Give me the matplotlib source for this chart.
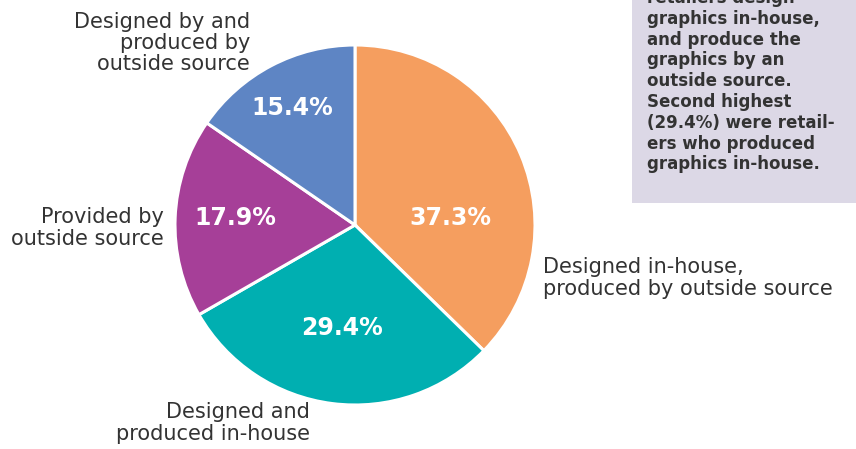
import matplotlib.pyplot as plt
from matplotlib.patches import Rectangle

plt.rcParams["font.family"] = ["DejaVu Sans"]

# share of retailers by how their graphics are designed / produced
categories = [
    "Designed in-house,\nproduced by outside source",
    "Designed and\nproduced in-house",
    "Provided by\noutside source",
    "Designed by and\nproduced by\noutside source",
]
shares = [37.3, 29.4, 17.9, 15.4]
colors = ["#F59E5F", "#00AFB1", "#A63F98", "#5E85C4"]

note = ("retailers design\ngraphics in-house,\nand produce the\ngraphics by an\n"
        "outside source.\nSecond highest\n(29.4%) were retail-\ners who produced\n"
        "graphics in-house.")

W, H = 856, 449
fig = plt.figure(figsize=(W / 100, H / 100), dpi=100)
ax = fig.add_axes([0, 0, 1, 1])

cx, cy, r = 355, H - 225, 180
ax.pie(shares, colors=colors, startangle=90, counterclock=False,
       center=(cx, cy), radius=r, frame=True,
       wedgeprops=dict(edgecolor="white", linewidth=2.2))
ax.set_xlim(0, W)
ax.set_ylim(0, H)
ax.set_aspect("equal")
ax.axis("off")

# percentage labels inside the slices
pct_pos = [(450, 218), (342, 328), (235, 218), (292, 108)]
for v, (x, y) in zip(shares, pct_pos):
    ax.text(x, H - y, f"{v}%", color="white", fontsize=17, fontweight="bold",
            ha="center", va="center")

# category labels around the pie
lab_pos = [(543, 278, "left"), (310, 423, "right"),
           (164, 228, "right"), (250, 43, "right")]
for lab, (x, y, ha) in zip(categories, lab_pos):
    ax.text(x, H - y, lab, color="#333333", fontsize=15, ha=ha, va="center",
            multialignment=ha, linespacing=1.08)

# side note box
ax.add_patch(Rectangle((632, H - 203), 240, 260, facecolor="#DCD8E6",
                       edgecolor="none"))
ax.text(647, H + 11, note, color="#333333", fontsize=12, fontweight="bold",
        ha="left", va="top", linespacing=1.2)

fig.savefig("out.png", dpi=100)
